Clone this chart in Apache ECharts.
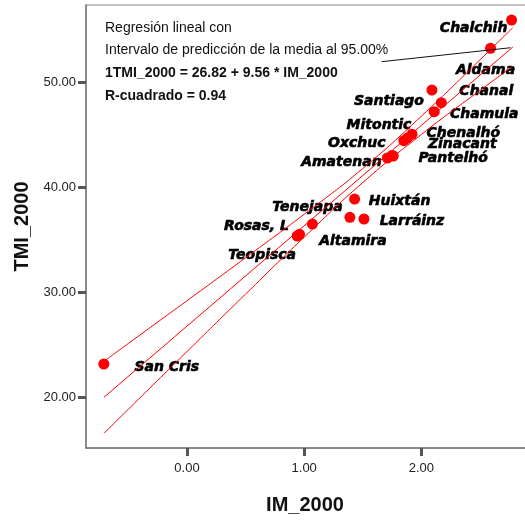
<!DOCTYPE html>
<html>
<head>
<meta charset="utf-8">
<script src="https://cdn.jsdelivr.net/npm/echarts@6/dist/echarts.min.js"></script>
<style>
  html, body { margin: 0; padding: 0; background: #fff; }
  #chart { width: 525px; height: 520px; }
</style>
</head>
<body>
<div id="chart"></div>
<script>
// municipios y valores
const names = ['San Cris', 'Teopisca', 'Rosas, L', 'Tenejapa', 'Altamira', 'Huixtán', 'Larráinz',
  'Amatenan', 'Pantelhó', 'Zinacant', 'Oxchuc', 'Chenalhó', 'Mitontic', 'Chamula', 'Chanal',
  'Santiago', 'Aldama', 'Chalchih'];
const imValues = [-0.71, 0.94, 0.96, 1.07, 1.39, 1.43, 1.51, 1.71, 1.75, 1.76, 1.85, 1.88, 1.92,
  2.11, 2.17, 2.09, 2.59, 2.77];
const tmiValues = [23.21, 35.40, 35.56, 36.54, 37.18, 38.92, 37.02, 42.83, 43.07, 43.02, 44.48,
  44.73, 45.09, 47.24, 48.10, 49.30, 53.28, 55.97];

// recta ajustada y banda del 95%
const fitX = [-0.71, 2.78];
const fitY = [20.03, 53.40];
const bandX = [-0.71, -0.5, 0, 0.5, 1.0, 1.5, 2.0, 2.5, 2.78];
const bandUpper = [23.46, 25.17, 29.24, 33.33, 37.47, 41.83, 46.81, 52.18, 55.24];
const bandLower = [16.60, 18.91, 24.40, 29.87, 35.29, 40.49, 45.07, 49.26, 51.56];

// linea negra que une la leyenda con la recta
const connectorX = [1.66, 2.76];
const connectorY = [52.0, 53.33];

const xTicks = [0, 1, 2];
const yTicks = [20, 30, 40, 50];

// desplazamiento de cada etiqueta respecto a su punto (px)
const labelOffsets = [[63, 3], [-35, 19], [-43, -8], [-5, -17], [3, 24], [45, 2], [48, 2],
  [-46, 4], [61, 3], [69, -12], [-47, 3], [56, -5], [-33, -9], [50, 3], [45, -11],
  [-43, 11], [-5, 22], [-38, 8]];

const zip = (xs, ys) => xs.map((x, i) => [x, ys[i]]);

const chart = echarts.init(document.getElementById('chart'));

const axisCommon = {
  splitLine: { show: false }
};

const nameFont = { fontFamily: 'Liberation Sans', fontWeight: 'bold', fontSize: 20, color: '#111' };

chart.setOption({
  animation: false,
  backgroundColor: '#fff',
  grid: {
    left: 86, top: 5, width: 450, height: 443,
    outerBoundsMode: 'none',
    containLabel: false,
    show: true, borderColor: '#888', borderWidth: 1
  },
  xAxis: Object.assign({}, axisCommon, {
    type: 'value',
    min: -0.862,
    max: 2.978,
    name: 'IM_2000',
    nameLocation: 'middle',
    nameGap: 47,
    nameTextStyle: Object.assign({ padding: [0, 12, 0, 0] }, nameFont),
    axisLine: { show: true, onZero: false, lineStyle: { color: '#777', width: 1.5 } },
    axisTick: { show: true, customValues: xTicks, length: 8, lineStyle: { color: '#555', width: 3 } },
    axisLabel: {
      customValues: xTicks, margin: 14,
      fontFamily: 'Liberation Sans', fontSize: 13, color: '#222',
      formatter: v => v.toFixed(2)
    }
  }),
  yAxis: Object.assign({}, axisCommon, {
    type: 'value',
    min: 15.21,
    max: 57.40,
    name: 'TMI_2000',
    nameLocation: 'middle',
    nameGap: 52,
    nameTextStyle: nameFont,
    axisLine: { show: true, onZero: false, lineStyle: { color: '#777', width: 1.5 } },
    axisTick: { show: true, customValues: yTicks, length: 8, lineStyle: { color: '#555', width: 3 } },
    axisLabel: {
      customValues: yTicks, margin: 10,
      fontFamily: 'Liberation Sans', fontSize: 13, color: '#222',
      formatter: v => v.toFixed(2)
    }
  }),
  graphic: [
    { type: 'text', left: 105, top: 21, style: { text: 'Regresión lineal con', font: '14px "Liberation Sans"', fill: '#111' } },
    { type: 'text', left: 105, top: 43, style: { text: 'Intervalo de predicción de la media al 95.00%', font: '14px "Liberation Sans"', fill: '#111' } },
    { type: 'text', left: 105, top: 66, style: { text: '1TMI_2000 = 26.82 + 9.56 * IM_2000', font: 'bold 14px "Liberation Sans"', fill: '#111' } },
    { type: 'text', left: 105, top: 89, style: { text: 'R-cuadrado = 0.94', font: 'bold 14px "Liberation Sans"', fill: '#111' } }
  ],
  series: [
    {
      type: 'line', data: zip(bandX, bandUpper), smooth: true, showSymbol: false, silent: true,
      lineStyle: { color: '#ff0000', width: 1 }
    },
    {
      type: 'line', data: zip(fitX, fitY), showSymbol: false, silent: true,
      lineStyle: { color: '#ff0000', width: 1 }
    },
    {
      type: 'line', data: zip(bandX, bandLower), smooth: true, showSymbol: false, silent: true,
      lineStyle: { color: '#ff0000', width: 1 }
    },
    {
      type: 'line', data: zip(connectorX, connectorY), showSymbol: false, silent: true,
      lineStyle: { color: '#111', width: 1 }
    },
    {
      type: 'scatter',
      symbolSize: 11,
      itemStyle: { color: '#ff0000', opacity: 1 },
      data: names.map((n, i) => ({
        name: n,
        value: [imValues[i], tmiValues[i]],
        label: { offset: labelOffsets[i] }
      })),
      label: {
        show: true,
        position: 'inside',
        formatter: p => p.name,
        fontFamily: 'DejaVu Sans',
        fontWeight: 900,
        fontStyle: 'italic',
        fontSize: 14,
        color: '#000',
        textBorderColor: '#000',
        textBorderWidth: 0.6
      }
    }
  ]
});
</script>
</body>
</html>
